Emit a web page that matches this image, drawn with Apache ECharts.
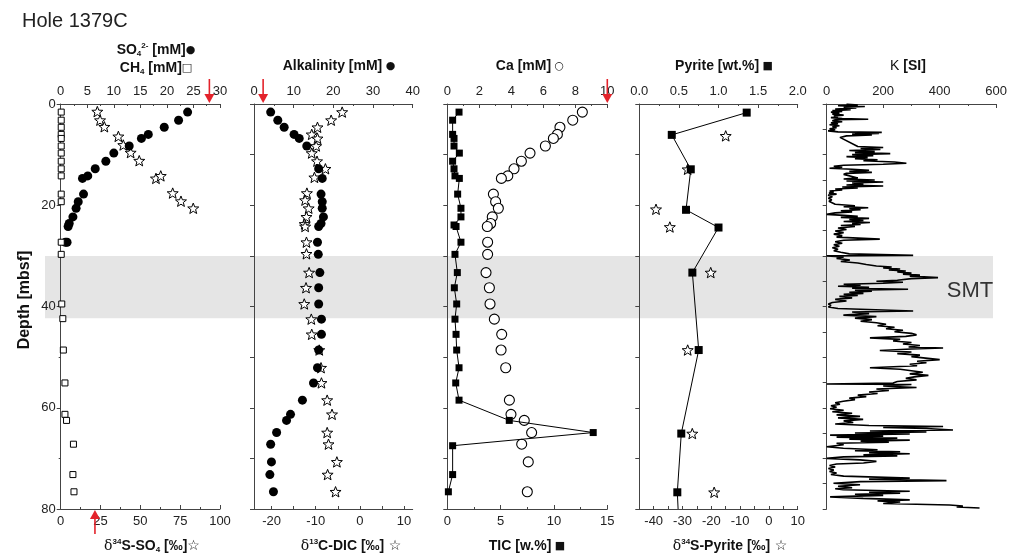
<!DOCTYPE html>
<html><head><meta charset="utf-8">
<script src="https://cdn.jsdelivr.net/npm/echarts@6/dist/echarts.min.js"></script>
<style>html,body{margin:0;padding:0;background:#fff}#c{width:1015px;height:560px}</style>
</head><body><div id="c"></div>
<script>
// ---------- data: [value, depth (mbsf)] ----------
const so4 = [[23.9,1.6],[22.2,3.2],[19.5,4.6],[16.5,6.0],[15.2,6.8],[12.9,8.3],[10.0,9.7],[8.5,11.3],[6.5,12.8],[5.1,14.2],[4.1,14.7],[4.3,17.8],[3.3,19.3],[2.9,20.6],[2.3,22.3],[1.6,23.6],[1.4,24.2],[0.9,27.3],[1.2,27.3]];
const ch4 = [[0.1,1.6],[0.1,3.2],[0.1,4.6],[0.1,6.0],[0.1,6.8],[0.1,8.3],[0.1,9.7],[0.1,11.3],[0.1,12.8],[0.1,14.2],[0.1,17.8],[0.1,19.3],[0.1,27.3],[0.1,29.7],[0.2,39.5],[0.4,42.4],[0.5,48.6],[0.8,55.1],[0.8,61.3],[1.1,62.5],[2.4,67.2],[2.3,73.2],[2.5,76.6]];
const d34sSO4 = [[23.0,1.5],[24.7,3.2],[27.4,4.5],[36.2,6.4],[39.3,8.1],[43.9,9.6],[49.3,11.2],[59.8,14.7],[62.8,14.2],[70.3,17.6],[75.5,19.2],[83.2,20.6]];
const alkalinity = [[4.2,1.6],[6.0,3.2],[7.6,4.6],[10.1,6.0],[11.4,6.8],[13.3,8.3],[16.3,12.8],[17.2,14.7],[16.9,17.8],[17.2,19.3],[17.2,20.6],[17.5,22.3],[16.9,23.6],[16.3,24.2],[16.0,27.3],[16.2,29.7],[16.6,33.3],[16.3,36.3],[16.3,39.5],[17.0,42.5],[17.0,45.5],[16.3,48.6],[16.0,52.1],[15.0,55.1],[12.2,58.5],[9.2,61.3],[8.2,62.5],[5.7,64.9],[4.2,67.2],[4.4,70.7],[4.0,73.2],[4.9,76.6]];
const d13cDIC = [[-4.0,1.6],[-6.5,3.2],[-9.6,4.6],[-10.9,6.0],[-9.6,6.8],[-9.9,8.3],[-10.9,9.7],[-9.7,11.3],[-7.8,12.8],[-10.3,14.5],[-12.0,17.6],[-12.4,19.0],[-11.6,20.6],[-12.1,22.3],[-12.5,23.7],[-12.4,24.2],[-12.1,27.3],[-12.1,29.6],[-11.5,33.3],[-12.2,36.3],[-12.6,39.5],[-11.0,42.5],[-10.9,45.5],[-9.2,48.6],[-8.8,52.1],[-8.7,55.1],[-7.4,58.5],[-6.3,61.3],[-7.4,64.9],[-7.1,67.2],[-5.2,70.7],[-7.3,73.2],[-5.5,76.6]];
const calcium = [[8.44,1.6],[7.84,3.2],[7.04,4.6],[6.88,6.0],[6.63,6.8],[6.13,8.3],[5.17,9.7],[4.63,11.3],[4.17,12.8],[3.78,14.2],[3.38,14.7],[2.88,17.8],[3.02,19.3],[3.19,20.6],[2.81,22.3],[2.71,23.6],[2.5,24.2],[2.52,27.3],[2.52,29.7],[2.42,33.3],[2.63,36.3],[2.67,39.5],[2.94,42.5],[3.4,45.5],[3.36,48.6],[3.65,52.1],[3.88,58.5],[3.98,61.3],[4.81,62.5],[5.27,64.9],[4.65,67.2],[5.06,70.7],[5.0,76.6]];
const tic = [[1.10,1.6],[0.5,3.2],[0.5,6.0],[0.63,6.8],[0.63,8.3],[1.13,9.7],[0.5,11.3],[0.63,12.8],[0.72,14.2],[1.13,14.7],[0.97,17.8],[1.28,20.6],[1.28,22.3],[0.63,23.9],[0.82,24.2],[1.28,27.3],[0.72,29.7],[0.94,33.3],[0.66,36.3],[0.88,39.5],[0.72,42.5],[0.82,45.5],[0.88,48.6],[1.10,52.1],[0.79,55.1],[1.10,58.5],[5.81,62.5],[13.68,64.9],[0.5,67.5],[0.5,73.2],[0.1,76.6]];
const pyrite = [[1.356,1.7],[0.41,6.1],[0.65,12.9],[0.59,20.9],[1.0,24.4],[0.67,33.3],[0.75,48.6],[0.53,65.1],[0.48,76.7]];
const pyriteTail = [0.49,80];
const d34sPyrite = [[-15.0,6.3],[-28.2,12.9],[-39.2,20.8],[-34.4,24.3],[-20.2,33.3],[-28.2,48.6],[-26.6,65.1],[-19.0,76.7]];
// magnetic susceptibility: [depth, kappa]
const kappaLog = [[0.0,70],[0.2,110],[0.35,40],[0.5,135],[0.65,60],[0.8,105],[1.0,30],[1.15,85],[1.3,20],[1.45,55],[1.6,15],[1.8,45],[2.0,20],[2.2,60],[2.35,25],[2.5,40],[2.7,15],[2.85,55],[3.0,147],[3.1,30],[3.3,20],[3.5,55],[3.7,15],[3.9,40],[4.1,10],[4.3,45],[4.5,20],[4.7,35],[4.9,10],[5.1,30],[5.3,5],[5.5,40],[5.6,195],[5.7,100],[5.8,185],[5.95,90],[6.1,160],[6.3,70],[6.6,47],[8.4,110],[8.6,200],[8.8,120],[9.0,190],[9.2,80],[9.4,170],[9.6,100],[9.8,225],[10.0,90],[10.2,165],[10.4,70],[10.6,145],[10.8,100],[11.0,180],[11.2,130],[11.45,240],[11.7,282],[11.9,200],[12.1,60],[12.3,25],[12.5,55],[12.7,10],[12.9,90],[13.1,150],[13.3,80],[13.5,160],[13.7,70],[13.9,60],[14.6,110],[14.8,60],[15.0,170],[15.2,70],[15.4,200],[15.6,90],[15.8,130],[16.0,70],[16.2,200],[16.4,55],[16.6,110],[16.8,30],[17.0,55],[17.2,10],[17.4,25],[17.6,8],[17.8,35],[18.0,5],[18.3,20],[18.6,6],[18.9,18],[19.2,8],[19.5,15],[19.8,30],[20.1,100],[20.3,60],[20.5,147],[20.7,80],[20.9,120],[21.1,50],[21.3,90],[21.5,30],[21.8,0],[22.0,60],[22.2,110],[22.4,50],[22.6,150],[22.8,80],[23.0,130],[23.2,60],[23.4,153],[23.6,90],[23.8,120],[24.0,50],[24.2,100],[24.5,40],[24.8,70],[25.1,30],[25.4,60],[25.7,25],[26.0,55],[26.3,35],[26.7,188],[26.9,60],[27.2,30],[27.5,55],[27.8,25],[28.1,45],[28.4,20],[28.7,40],[29.0,25],[29.3,50],[29.6,80],[29.9,306],[30.0,0],[30.2,60],[30.5,35],[30.8,82],[31.1,50],[31.4,110],[31.7,140],[32.0,176],[32.2,230],[32.4,200],[32.6,260],[32.8,220],[33.0,280],[33.2,250],[33.4,300],[33.6,270],[33.8,330],[34.0,294],[34.3,394],[34.5,300],[34.8,250],[35.0,176],[35.2,270],[35.4,200],[35.6,60],[35.8,120],[36.0,40],[36.2,150],[36.4,90],[36.6,288],[36.8,100],[37.0,160],[37.2,80],[37.4,130],[37.6,60],[37.8,110],[38.0,45],[38.3,90],[38.6,30],[38.9,70],[39.2,20],[39.5,6],[39.8,15],[40.1,6],[40.4,40],[40.9,306],[41.1,90],[41.4,150],[41.7,59],[42.0,176],[42.3,100],[42.6,160],[42.9,120],[43.2,176],[43.5,210],[43.8,180],[44.1,240],[44.4,210],[44.7,270],[45.0,240],[45.3,300],[45.6,318],[45.9,280],[46.2,153],[46.5,260],[46.8,235],[47.1,300],[47.4,270],[47.7,330],[48.0,290],[48.2,412],[48.4,300],[48.7,188],[49.0,300],[49.3,250],[49.6,330],[49.9,300],[50.2,350],[50.5,400],[50.8,320],[51.1,353],[51.4,294],[51.7,320],[52.1,153],[52.4,260],[52.7,300],[53.0,340],[53.3,294],[53.6,360],[53.9,310],[54.2,280],[54.5,318],[54.8,250],[55.1,235],[55.3,0],[55.4,300],[55.7,200],[56.0,318],[56.3,176],[56.6,220],[56.9,150],[57.2,180],[57.5,110],[57.8,140],[58.1,80],[58.4,100],[58.7,59],[59.0,30],[59.3,47],[59.6,15],[59.9,35],[60.2,12],[60.5,60],[60.8,20],[61.1,90],[61.4,35],[61.7,118],[62.0,40],[62.3,129],[62.6,60],[62.9,94],[63.2,30],[63.5,150],[63.7,412],[63.9,200],[64.1,353],[64.4,447],[64.6,153],[64.8,353],[65.0,100],[65.2,294],[65.4,12],[65.6,200],[65.8,35],[66.0,250],[66.2,80],[66.4,294],[66.6,120],[66.8,220],[67.0,35],[67.3,60],[67.7,0],[68.0,59],[68.3,180],[68.5,100],[68.7,260],[68.9,150],[69.1,294],[69.3,130],[69.5,250],[69.7,60],[70.0,0],[70.3,118],[70.6,176],[70.9,130],[71.1,35],[71.4,10],[71.7,30],[72.0,6],[72.3,25],[72.6,10],[72.9,35],[73.2,15],[73.5,60],[73.9,294],[74.1,150],[74.4,424],[74.6,120],[74.9,24],[75.2,118],[75.5,40],[75.8,90],[76.0,30],[76.2,59],[76.5,294],[76.7,150],[76.9,260],[77.1,100],[77.3,200],[77.6,12],[77.9,129],[78.2,294],[78.4,180],[78.6,260],[78.9,200],[79.2,435],[79.4,482],[79.6,460],[79.8,541]];
// seawater reference values (red arrows)
const swSO4 = 28, swAlk = 2.3, swCa = 10, swD34S = 21.5;
const smtBand = [30, 42.3];
const depthTicks = [0, 20, 40, 60, 80];
const d13cTicks = [-20, -10, 0, 10];
const d13cMinor = [-20, -15, -10, -5, 0, 5, 10];
const d34sPyTicks = [-40, -30, -20, -10, 0, 10];
const d34sPyMinor = [-40, -35, -30, -25, -20, -15, -10, -5, 0, 5, 10];

// ---------- layout ----------
const FONT = "'Liberation Sans', Arial, 'DejaVu Sans', sans-serif";
const TOP = 104, H = 405;
const panels = [
  {left: 60.7, width: 159.3},
  {left: 254, width: 158.7},
  {left: 447.3, width: 160},
  {left: 639.3, width: 158.4},
  {left: 826.7, width: 169.5}
];
const AX = '#444', TX = '#222', RED = '#e3232b';
const STAR = 'path://M12,1 L14.9,8.6 L23,8.9 L16.7,14 L18.9,21.9 L12,17.4 L5.1,21.9 L7.3,14 L1,8.9 L9.1,8.6 Z';

const grids = panels.map(p => ({left: p.left, width: p.width, top: TOP, height: H, show: false}));
grids.push({left: 45, width: 948, top: TOP, height: H, show: false});

function xAx(grid, pos, min, max, opt) {
  return Object.assign({
    type: 'value', gridIndex: grid, position: pos, min: min, max: max,
    axisLine: {show: true, onZero: false, lineStyle: {color: AX, width: 1}},
    axisTick: {show: true, inside: true, length: 4, lineStyle: {color: AX}},
    minorTick: {show: true, splitNumber: 2, length: 2, lineStyle: {color: AX}},
    splitLine: {show: false},
    axisLabel: {show: true, color: TX, fontFamily: FONT, fontSize: 13, margin: 6, hideOverlap: false, showMinLabel: true, showMaxLabel: true}
  }, opt || {});
}
function yAx(grid, interval, labels) {
  return {
    type: 'value', gridIndex: grid, inverse: true, min: 0, max: 80, interval: interval, position: 'left',
    axisLine: {show: true, onZero: false, lineStyle: {color: AX}},
    axisTick: {show: true, inside: false, length: 4, lineStyle: {color: AX}},
    minorTick: {show: labels, splitNumber: 2, length: 2, lineStyle: {color: AX}},
    splitLine: {show: false},
    axisLabel: {show: labels, color: TX, fontFamily: FONT, fontSize: 13, margin: 5, customValues: labels ? depthTicks : undefined}
  };
}

const xAxes = [
  xAx(0, 'top', 0, 30, {interval: 5}),
  xAx(0, 'bottom', 0, 100, {interval: 25}),
  xAx(1, 'top', 0, 40, {interval: 10}),
  xAx(1, 'bottom', -24, 12, {minorTick: {show: false},
    axisTick: {show: true, inside: true, length: 3, lineStyle: {color: AX}, customValues: d13cMinor},
    axisLabel: {show: true, color: TX, fontFamily: FONT, fontSize: 13, margin: 6, customValues: d13cTicks}}),
  xAx(2, 'top', 0, 10, {interval: 2}),
  xAx(2, 'bottom', 0, 15, {interval: 5}),
  xAx(3, 'top', 0, 2, {interval: 0.5, axisLabel: {show: true, color: TX, fontFamily: FONT, fontSize: 13, margin: 6, formatter: v => v.toFixed(1)}}),
  xAx(3, 'bottom', -45, 10, {minorTick: {show: false},
    axisTick: {show: true, inside: true, length: 3, lineStyle: {color: AX}, customValues: d34sPyMinor},
    axisLabel: {show: true, color: TX, fontFamily: FONT, fontSize: 13, margin: 6, customValues: d34sPyTicks}}),
  xAx(4, 'top', 0, 600, {interval: 200}),
  {type: 'value', gridIndex: 5, min: 0, max: 1, show: false}
];
const yAxes = [yAx(0, 20, true), yAx(1, 10, false), yAx(2, 10, false), yAx(3, 10, false), yAx(4, 5, false),
  {type: 'value', gridIndex: 5, inverse: true, min: 0, max: 80, show: false}];

function arrow(dir) {
  return function (params, api) {
    const p = api.coord([api.value(0), api.value(1)]);
    const x = p[0], y = p[1], s = dir;
    return {type: 'group', children: [
      {type: 'line', shape: {x1: x, y1: y + s * 25, x2: x, y2: y + s * 8}, style: {stroke: RED, lineWidth: 1.6}},
      {type: 'polygon', shape: {points: [[x - 5, y + s * 10], [x + 5, y + s * 10], [x, y + s * 1]]}, style: {fill: RED}}
    ]};
  };
}
const filledCircle = {type: 'scatter', symbol: 'circle', symbolSize: 9, itemStyle: {color: '#000', opacity: 1}};
const starS = {type: 'scatter', symbol: STAR, symbolKeepAspect: true, symbolSize: 11, itemStyle: {color: '#fff', borderColor: '#000', borderWidth: 1, opacity: 1}};

const series = [
  {type: 'custom', xAxisIndex: 9, yAxisIndex: 5, z: -1, silent: true, data: [smtBand],
    renderItem: function (params, api) {
      const a = api.coord([0, api.value(0)]), b = api.coord([1, api.value(1)]);
      return {type: 'rect', shape: {x: a[0], y: a[1], width: b[0] - a[0], height: b[1] - a[1]}, style: {fill: '#e5e5e5'}};
    }},
  // panel 1
  Object.assign({}, starS, {xAxisIndex: 1, yAxisIndex: 0, data: d34sSO4}),
  Object.assign({}, filledCircle, {xAxisIndex: 0, yAxisIndex: 0, data: so4}),
  {type: 'scatter', xAxisIndex: 0, yAxisIndex: 0, symbol: 'rect', symbolSize: 6, itemStyle: {color: '#fff', borderColor: '#000', borderWidth: 1, opacity: 1}, data: ch4},
  {type: 'custom', xAxisIndex: 0, yAxisIndex: 0, data: [[swSO4, 0]], renderItem: arrow(-1), z: 5},
  {type: 'custom', xAxisIndex: 1, yAxisIndex: 0, data: [[swD34S, 80]], renderItem: arrow(1), z: 5},
  // panel 2
  Object.assign({}, starS, {xAxisIndex: 3, yAxisIndex: 1, data: d13cDIC}),
  Object.assign({}, filledCircle, {xAxisIndex: 2, yAxisIndex: 1, data: alkalinity}),
  {type: 'custom', xAxisIndex: 2, yAxisIndex: 1, data: [[swAlk, 0]], renderItem: arrow(-1), z: 5},
  // panel 3
  {type: 'scatter', xAxisIndex: 4, yAxisIndex: 2, symbol: 'circle', symbolSize: 10, itemStyle: {color: '#fff', borderColor: '#000', borderWidth: 1.1, opacity: 1}, data: calcium},
  {type: 'line', xAxisIndex: 5, yAxisIndex: 2, symbol: 'rect', symbolSize: 7, showAllSymbol: true, lineStyle: {color: '#000', width: 1}, itemStyle: {color: '#000'}, data: tic},
  {type: 'custom', xAxisIndex: 4, yAxisIndex: 2, data: [[swCa, 0]], renderItem: arrow(-1), z: 5},
  // panel 4
  Object.assign({}, starS, {xAxisIndex: 7, yAxisIndex: 3, data: d34sPyrite}),
  {type: 'line', xAxisIndex: 6, yAxisIndex: 3, symbol: 'rect', symbolSize: 8, showAllSymbol: true, lineStyle: {color: '#000', width: 1}, itemStyle: {color: '#000'},
    data: pyrite.concat([{value: pyriteTail, symbol: 'none'}])},
  // panel 5
  {type: 'line', xAxisIndex: 8, yAxisIndex: 4, symbol: 'none', lineStyle: {color: '#000', width: 1.6}, data: kappaLog.map(d => [d[1], d[0]])}
];

const B = 'bold 14px ' + FONT;
const rich = {
  b: {font: B, fill: '#111'},
  n: {font: '14px ' + FONT, fill: '#111'},
  sub: {font: 'bold 8px ' + FONT, fill: '#111', verticalAlign: 'bottom', lineHeight: 16},
  sup: {font: 'bold 8px ' + FONT, fill: '#111', verticalAlign: 'top', lineHeight: 16},
  d: {font: '14px DejaVu Serif, serif', fill: '#111'},
  m: {font: '11px DejaVu Sans, sans-serif', fill: '#111'},
  s: {font: '14px DejaVu Sans, sans-serif', fill: '#111'}
};
function txt(x, y, text, extra) {
  return Object.assign({type: 'text', x: x, y: y, style: {text: text, rich: rich, align: 'center', verticalAlign: 'middle'}}, extra || {});
}
const graphic = [
  {type: 'text', x: 22, y: 21, style: {text: 'Hole 1379C', font: '20px ' + FONT, fill: '#222', verticalAlign: 'middle'}},
  txt(156, 50, '{b|SO}{sub|4}{sup|2-}{b| [mM]}{m|●}'),
  txt(156, 68, '{b|CH}{sub|4}{b| [mM]}{m|□}'),
  txt(339, 66, '{b|Alkalinity [mM]}{m| ●}'),
  txt(530, 66, '{b|Ca [mM]}{m| ○}'),
  txt(724, 66, '{b|Pyrite [wt.%]}{m| ■}'),
  txt(908, 66, '{n|K}{b| [SI]}'),
  txt(152, 546, '{d|δ}{sup|34}{b|S-SO}{sub|4}{b| [‰]}{s|☆}'),
  txt(351, 546, '{d|δ}{sup|13}{b|C-DIC [‰]}{s| ☆}'),
  txt(527, 546, '{b|TIC [w.%]}{m| ■}'),
  txt(730, 546, '{d|δ}{sup|34}{b|S-Pyrite [‰]}{s| ☆}'),
  {type: 'text', x: 25, y: 300, rotation: Math.PI / 2, style: {text: 'Depth [mbsf]', font: 'bold 16px ' + FONT, fill: '#111', align: 'center', verticalAlign: 'middle'}},
  {type: 'text', x: 970, y: 291, style: {text: 'SMT', font: '22px ' + FONT, fill: '#333', align: 'center', verticalAlign: 'middle'}}
];

const chart = echarts.init(document.getElementById('c'), null, {renderer: 'canvas'});
chart.setOption({
  animation: false, backgroundColor: '#fff',
  grid: grids, xAxis: xAxes, yAxis: yAxes, series: series, graphic: graphic
});
</script></body></html>
